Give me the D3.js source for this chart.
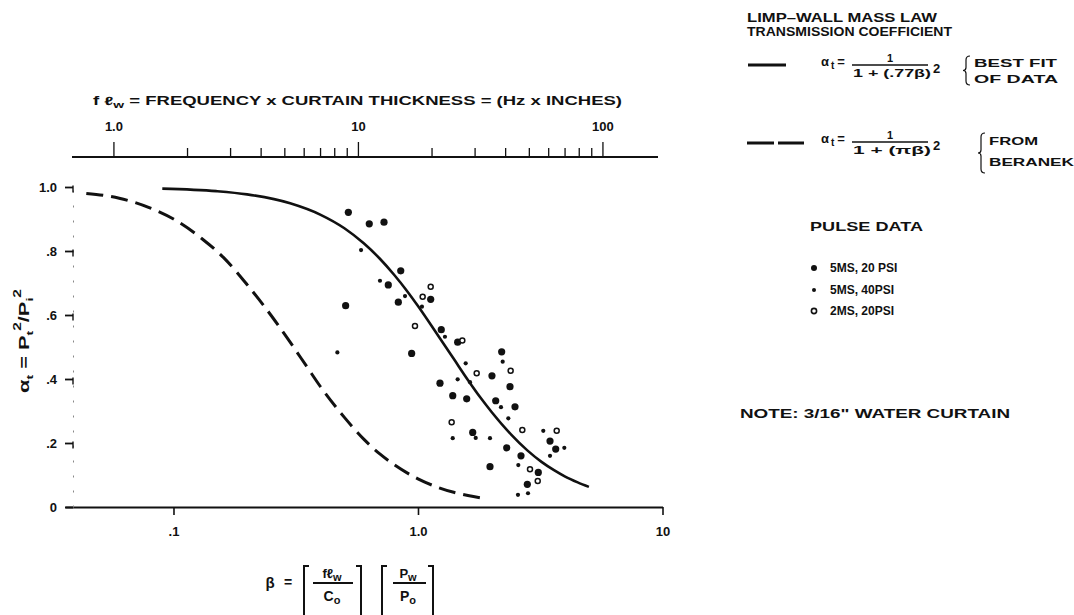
<!DOCTYPE html>
<html lang='en'>
<head>
<meta charset='utf-8'>
<title>Water curtain transmission coefficient</title>
<script src="https://d3js.org/d3.v7.min.js"></script>
<style>
	body{margin:0;background:#fff;}
	text{font-family:"Liberation Sans",Arial,sans-serif;font-weight:bold;fill:#111;}
</style>
</head>
<body>
<div id='chart'></div>
<script type='text/javascript'>
	// pulse data (beta, alpha_t)
	const big5ms20Beta  = [0.519,0.632,0.726,0.850,0.506,0.831,1.127,0.756,0.942,1.245,1.453,2.199,2.007,1.230,1.387,1.582,2.079,2.493,2.378,1.674,2.306,1.970,2.638,3.467,3.658,3.105,2.80];
	const big5ms20Alpha = [0.921,0.885,0.890,0.738,0.629,0.640,0.649,0.694,0.480,0.554,0.515,0.485,0.410,0.387,0.348,0.338,0.332,0.313,0.376,0.233,0.185,0.126,0.160,0.206,0.181,0.108,0.071];
	const small5ms40Beta  = [0.585,0.699,0.885,1.038,0.468,1.567,1.453,1.632,2.220,2.185,2.341,1.387,1.970,3.254,3.467,2.572,1.289,1.722,3.967,2.564,2.818];
	const small5ms40Alpha = [0.803,0.707,0.659,0.626,0.483,0.449,0.399,0.390,0.454,0.312,0.277,0.215,0.215,0.238,0.160,0.131,0.532,0.216,0.185,0.038,0.043];
	const open2ms20Beta  = [1.127,1.045,0.972,1.518,1.738,2.393,1.373,2.671,3.692,2.871,3.088];
	const open2ms20Alpha = [0.688,0.657,0.566,0.520,0.418,0.426,0.265,0.241,0.238,0.118,0.081];

	// curves
	const bestFitBeta  = [0.09,0.15,0.2,0.3,0.4,0.5,0.6,0.7,0.8,0.9,1.0,1.2,1.4,1.6,1.8,2.0,2.4,2.8,3.2,3.6,4.0,4.5,5.0];
	const bestFitAlpha = [0.995,0.987,0.977,0.949,0.913,0.871,0.824,0.775,0.725,0.676,0.628,0.539,0.463,0.397,0.342,0.297,0.227,0.177,0.141,0.115,0.095,0.077,0.063];
	const beranekBeta  = [0.044,0.06,0.08,0.1,0.13,0.16,0.2,0.25,0.3,0.35,0.4,0.5,0.6,0.7,0.8,1.0,1.2,1.4,1.6,1.9];
	const beranekAlpha = [0.98,0.965,0.935,0.90,0.84,0.78,0.695,0.60,0.515,0.44,0.375,0.28,0.212,0.165,0.132,0.088,0.062,0.046,0.036,0.026];

	// axes
	const xTicks = [0.1,1,10];
	const xTickLabels = ['.1','1.0','10'];
	const yTicks = [0,0.2,0.4,0.6,0.8,1.0];
	const yTickLabels = ['0','.2','.4','.6','.8','1.0'];
	const topTicks = [1,2,3,4,5,6,7,8,9,10,20,30,40,50,60,70,80,90,100];
	const topMajor = [1,10,100];
	const topMajorLabels = ['1.0','10','100'];
	const betaPerFl = 0.0568; // beta at f*lw = 1 on the top scale

	const legendSeries = ['5MS, 20 PSI','5MS, 40PSI','2MS, 20PSI'];

	const svg = d3.select('#chart').append('svg')
		.attr('width',1074).attr('height',615);

	const x = d3.scaleLog().domain([0.036,10]).range([65,662.5]);
	const xTop = d3.scaleLog().domain([0.036/betaPerFl,10/betaPerFl]).range([65,662.5]);
	const y = d3.scaleLinear().domain([0,1]).range([507,187]);

	//bottom axis
	let gx = svg.append('g').attr('transform','translate(0,507)')
		.call(d3.axisBottom(x).tickValues(xTicks).tickFormat((d,i)=>xTickLabels[i]).tickSize(8).tickSizeOuter(0).tickPadding(12));
	gx.select('.domain').attr('stroke','#111').attr('stroke-width',2.2);
	gx.selectAll('.tick line').attr('stroke','#111').attr('stroke-width',1.6);
	gx.selectAll('text').style('font-size','13px').attr('fill','#111');

	//left axis
	let gy = svg.append('g').attr('transform','translate(73,0)')
		.call(d3.axisLeft(y).tickValues(yTicks).tickFormat((d,i)=>yTickLabels[i]).tickSize(8).tickSizeOuter(0).tickPadding(8));
	gy.select('.domain').attr('stroke','#888').attr('stroke-width',1).attr('stroke-dasharray','2,13');
	gy.selectAll('.tick line').attr('stroke','#111').attr('stroke-width',1.8);
	gy.selectAll('.tick').filter(d=>d>0).append('line')
		.attr('x1',0).attr('x2',0).attr('y1',-2).attr('y2',5)
		.attr('stroke','#111').attr('stroke-width',1.4);
	gy.selectAll('text').style('font-size','13px').attr('fill','#111');

	//top axis
	let gt = svg.append('g').attr('transform','translate(0,157)')
		.call(d3.axisTop(xTop).tickValues(topTicks)
			.tickFormat(d=>{let i=topMajor.indexOf(d);return i<0?'':topMajorLabels[i];})
			.tickSize(9).tickSizeOuter(0).tickPadding(17));
	gt.select('.domain').attr('d','M72,0H658').attr('stroke','#111').attr('stroke-width',2);
	gt.selectAll('.tick line').attr('stroke','#111').attr('stroke-width',1.3);
	gt.selectAll('.tick').filter(d=>topMajor.indexOf(d)>=0).select('line').attr('y2',-15);
	gt.selectAll('text').style('font-size','13px').attr('fill','#111');

	let topTitle = svg.append('text').attr('x',93).attr('y',105).style('font-size','12px')
		.attr('textLength',529).attr('lengthAdjust','spacingAndGlyphs');
	topTitle.append('tspan').text('f ℓ');
	topTitle.append('tspan').attr('dy',3).style('font-size','9px').text('w');
	topTitle.append('tspan').attr('dy',-3).text(' = FREQUENCY x CURTAIN THICKNESS = (Hz x INCHES)');

	//y axis title
	let yt = svg.append('text').attr('transform','translate(29,341) rotate(-90)')
		.attr('text-anchor','middle').style('font-size','14px')
		.attr('textLength',104).attr('lengthAdjust','spacingAndGlyphs');
	yt.append('tspan').text('α');
	yt.append('tspan').attr('dy',4).style('font-size','9px').text('t');
	yt.append('tspan').attr('dy',-4).text(' = P');
	yt.append('tspan').attr('dy',4).style('font-size','9px').text('t');
	yt.append('tspan').attr('dy',-12).style('font-size','10px').text('2');
	yt.append('tspan').attr('dy',8).text('/P');
	yt.append('tspan').attr('dy',4).style('font-size','9px').text('i');
	yt.append('tspan').attr('dy',-12).style('font-size','10px').text('2');

	//x axis title: beta = [f lw / C0][Pw / P0]
	let xt = svg.append('g');
	xt.append('text').attr('x',270).attr('y',588).attr('text-anchor','middle').style('font-size','15px').text('β');
	xt.append('text').attr('x',288).attr('y',587).attr('text-anchor','middle').style('font-size','14px').text('=');
	function bracket(x0,x1){
		xt.append('path').attr('d',`M${x0+5},566H${x0}V620`).attr('fill','none').attr('stroke','#111').attr('stroke-width',2);
		xt.append('path').attr('d',`M${x1-5},566H${x1}V620`).attr('fill','none').attr('stroke','#111').attr('stroke-width',2);
	}
	function frac(cx,num,numSub,den,denSub,x0,x1){
		let n = xt.append('text').attr('x',cx).attr('y',578).attr('text-anchor','middle').style('font-size','13px');
		n.append('tspan').text(num);
		n.append('tspan').attr('dy',3).style('font-size','11px').text(numSub);
		xt.append('line').attr('x1',x0).attr('x2',x1).attr('y1',583).attr('y2',583).attr('stroke','#111').attr('stroke-width',2.2);
		let d = xt.append('text').attr('x',cx).attr('y',601).attr('text-anchor','middle').style('font-size','14px');
		d.append('tspan').text(den);
		d.append('tspan').attr('dy',3).style('font-size','11px').text(denSub);
	}
	bracket(304,361);
	frac(332,'fℓ','w','C','o',313,353);
	bracket(382,433);
	frac(408,'P','w','P','o',393,426);

	//curves
	const line = d3.line().x(d=>x(d[0])).y(d=>y(d[1])).curve(d3.curveMonotoneX);
	svg.append('path').datum(bestFitBeta.map((b,i)=>[b,bestFitAlpha[i]]))
		.attr('d',line).attr('fill','none').attr('stroke','#111').attr('stroke-width',2.6);
	svg.append('path').datum(beranekBeta.map((b,i)=>[b,beranekAlpha[i]]))
		.attr('d',line).attr('fill','none').attr('stroke','#111').attr('stroke-width',3).attr('stroke-dasharray','17,8');

	//data points
	svg.append('g').selectAll('circle')
		.data(big5ms20Beta.map((b,i)=>[b,big5ms20Alpha[i]]))
		.enter().append('circle')
			.attr('cx',d=>x(d[0])).attr('cy',d=>y(d[1])).attr('r',3.6).attr('fill','#111');
	svg.append('g').selectAll('circle')
		.data(small5ms40Beta.map((b,i)=>[b,small5ms40Alpha[i]]))
		.enter().append('circle')
			.attr('cx',d=>x(d[0])).attr('cy',d=>y(d[1])).attr('r',2.1).attr('fill','#111');
	svg.append('g').selectAll('circle')
		.data(open2ms20Beta.map((b,i)=>[b,open2ms20Alpha[i]]))
		.enter().append('circle')
			.attr('cx',d=>x(d[0])).attr('cy',d=>y(d[1])).attr('r',2.5)
			.attr('fill','#fff').attr('stroke','#111').attr('stroke-width',1.5);

	//legend
	let lg = svg.append('g');
	lg.append('text').attr('x',747).attr('y',22).style('font-size','12px')
		.attr('textLength',190).attr('lengthAdjust','spacingAndGlyphs').text('LIMP–WALL MASS LAW');
	lg.append('text').attr('x',747).attr('y',36).style('font-size','12px')
		.attr('textLength',205).attr('lengthAdjust','spacingAndGlyphs').text('TRANSMISSION COEFFICIENT');

	function brace(bx,y0,y1){
		let ym=(y0+y1)/2;
		lg.append('path')
			.attr('d',`M${bx+4},${y0}Q${bx},${y0} ${bx},${y0+4}L${bx},${ym-3}Q${bx},${ym} ${bx-3},${ym}Q${bx},${ym} ${bx},${ym+3}L${bx},${y1-4}Q${bx},${y1} ${bx+4},${y1}`)
			.attr('fill','none').attr('stroke','#111').attr('stroke-width',1.2);
	}
	function formula(ay,denText,br,lab1,lab2){
		let a = lg.append('text').attr('x',821).attr('y',ay+1).style('font-size','13px');
		a.append('tspan').text('α');
		a.append('tspan').attr('dy',3).attr('dx',2).style('font-size','10px').text('t');
		a.append('tspan').attr('dy',-3).attr('dx',3).text('=');
		lg.append('text').attr('x',890).attr('y',ay-3).attr('text-anchor','middle').style('font-size','11px').text('1');
		lg.append('line').attr('x1',852).attr('x2',928).attr('y1',ay).attr('y2',ay).attr('stroke','#111').attr('stroke-width',1.4);
		lg.append('text').attr('x',853).attr('y',ay+12).style('font-size','11px')
			.attr('textLength',78).attr('lengthAdjust','spacingAndGlyphs').text(denText);
		lg.append('text').attr('x',933).attr('y',ay+8).style('font-size','13px').text('2');
		brace(br.x,br.y0,br.y1);
		lg.append('text').attr('x',br.x+8).attr('y',lab1.y).style('font-size','11px')
			.attr('textLength',lab1.w).attr('lengthAdjust','spacingAndGlyphs').text(lab1.t);
		lg.append('text').attr('x',br.x+8).attr('y',lab2.y).style('font-size','11px')
			.attr('textLength',lab2.w).attr('lengthAdjust','spacingAndGlyphs').text(lab2.t);
	}
	lg.append('line').attr('x1',748).attr('x2',786).attr('y1',65).attr('y2',65).attr('stroke','#111').attr('stroke-width',3);
	formula(65,'1 + (.77β)',{x:966,y0:56,y1:85},{t:'BEST FIT',y:67,w:83},{t:'OF DATA',y:83,w:84});
	lg.append('line').attr('x1',747).attr('x2',804).attr('y1',143).attr('y2',143).attr('stroke','#111').attr('stroke-width',3).attr('stroke-dasharray','27,4');
	formula(142,'1 + (πβ)',{x:981,y0:133,y1:173},{t:'FROM',y:145,w:49},{t:'BERANEK',y:166,w:85});

	lg.append('text').attr('x',810).attr('y',231).style('font-size','12px')
		.attr('textLength',113).attr('lengthAdjust','spacingAndGlyphs').text('PULSE DATA');
	const legendY = [268,290,311];
	legendSeries.forEach(function(s,i){
		let m = lg.append('circle').attr('cx',814).attr('cy',legendY[i]);
		if(i==0) m.attr('r',3).attr('fill','#111');
		if(i==1) m.attr('r',2).attr('fill','#111');
		if(i==2) m.attr('r',2.6).attr('fill','#fff').attr('stroke','#111').attr('stroke-width',1.6);
		lg.append('text').attr('x',830).attr('y',legendY[i]+4).style('font-size','12px').text(s);
	});

	lg.append('text').attr('x',740).attr('y',418).style('font-size','12.5px')
		.attr('textLength',270).attr('lengthAdjust','spacingAndGlyphs').text('NOTE:  3/16" WATER CURTAIN');
</script>
</body>
</html>
